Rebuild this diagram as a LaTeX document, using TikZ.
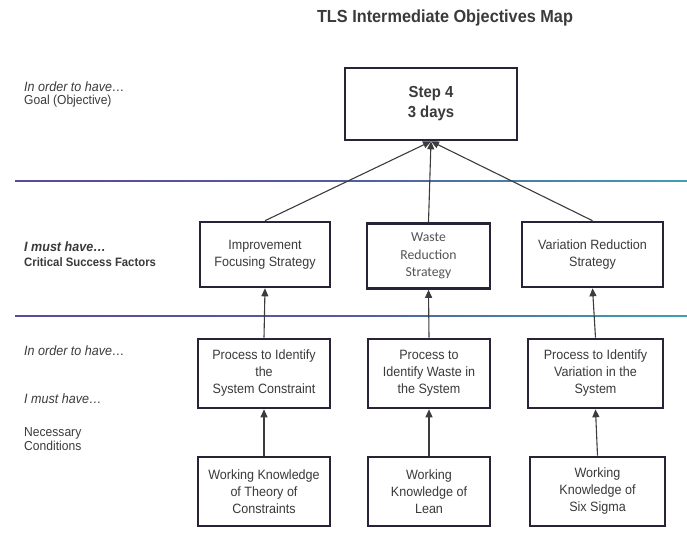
\documentclass[tikz,border=0pt]{standalone}
\usepackage{fontspec}
\setmainfont[FakeStretch=0.93]{Liberation Sans}
\newfontfamily\calib{Carlito}
\usetikzlibrary{arrows.meta}
\definecolor{boxc}{HTML}{2A2236}
\definecolor{txt}{HTML}{3A3A3A}
\definecolor{softtxt}{HTML}{555555}
\definecolor{linec}{HTML}{3C3C3C}
\definecolor{rulel}{HTML}{5A4A9A}
\definecolor{ruler}{HTML}{3FA0B0}
\begin{document}
\begin{tikzpicture}[x=1pt,y=-1pt,
  box/.style={draw=boxc, line width=2.6pt, fill=white, align=center,
    font=\fontsize{13.5}{17}\selectfont, text=txt, inner sep=0pt},
  link/.style={draw=linec, line width=1.1pt, -{Triangle[length=8pt,width=7pt]}},
  side/.style={anchor=west, align=left, text=txt, font=\fontsize{13}{13}\selectfont, inner sep=0pt},
  sideit/.style={side, font=\fontsize{13.5}{14}\selectfont\itshape}]
\useasboundingbox (0,0) rectangle (687,551);

% title
\node[font=\fontsize{17.5}{20}\selectfont\bfseries, text=txt] (title) at (445,18) {TLS Intermediate Objectives Map};

% section rules
\shade[left color=rulel, right color=ruler, middle color=rulel!80!ruler] (15,180.2) rectangle (687,181.8);
\shade[left color=rulel, right color=ruler, middle color=rulel!80!ruler] (15,315.2) rectangle (687,316.8);

% row captions
\node[side] (c1) at (24,94) {\fontsize{13.5}{13}\selectfont\itshape In order to have\dots\\Goal (Objective)};
\node[side, font=\fontsize{13}{15}\selectfont] (c3) at (24,254.5) {{\fontsize{13.5}{15}\selectfont\bfseries\itshape I must have\dots}\\{\fontsize{12.2}{15}\selectfont\bfseries Critical Success Factors}};
\node[sideit] (c5) at (24,351) {In order to have\dots};
\node[sideit] (c6) at (24,399) {I must have\dots};
\node[side, font=\fontsize{13}{14.5}\selectfont] (c7) at (24,439) {Necessary\\Conditions};

% goal
\node[box, minimum width=172, minimum height=72, font=\fontsize{16}{20}\selectfont\bfseries] (goal) at (431,104) {Step 4\\3 days};

% critical success factors
\node[box, minimum width=130, minimum height=65] (m1) at (265,254.5) {Improvement\\Focusing Strategy};
\node[box, minimum width=123, minimum height=65, text=softtxt, font=\calib\fontsize{13.7}{17.5}\selectfont] (m2) at (428.5,256) {Waste\\Reduction\\Strategy};
\node[box, minimum width=141, minimum height=65] (m3) at (592.5,254.5) {Variation Reduction\\Strategy};

% necessary conditions, upper
\node[box, minimum width=132, minimum height=69] (p1) at (264,373.5) {Process to Identify\\the\\System Constraint};
\node[box, minimum width=122, minimum height=69] (p2) at (429,373.5) {Process to\\Identify Waste in\\the System};
\node[box, minimum width=135, minimum height=69] (p3) at (595.5,373.5) {Process to Identify\\Variation in the\\System};

% necessary conditions, lower
\node[box, minimum width=132, minimum height=69] (k1) at (264,491.5) {Working Knowledge\\of Theory of\\Constraints};
\node[box, minimum width=122, minimum height=69] (k2) at (429,491.5) {Working\\Knowledge of\\Lean};
\node[box, minimum width=135, minimum height=69] (k3) at (597.5,491.5) {Working\\Knowledge of\\Six Sigma};

% connectors
\draw[link] (m1.north) -- (goal.south);
\draw[link] (m2.north) -- (goal.south);
\draw[link] (m3.north) -- (goal.south);
\draw[link] (p1.north) -- (m1.south);
\draw[link] (p2.north) -- (m2.south);
\draw[link] (p3.north) -- (m3.south);
\draw[link] (k1.north) -- (p1.south);
\draw[link] (k2.north) -- (p2.south);
\draw[link] (k3.north) -- (p3.south);
\end{tikzpicture}
\end{document}
